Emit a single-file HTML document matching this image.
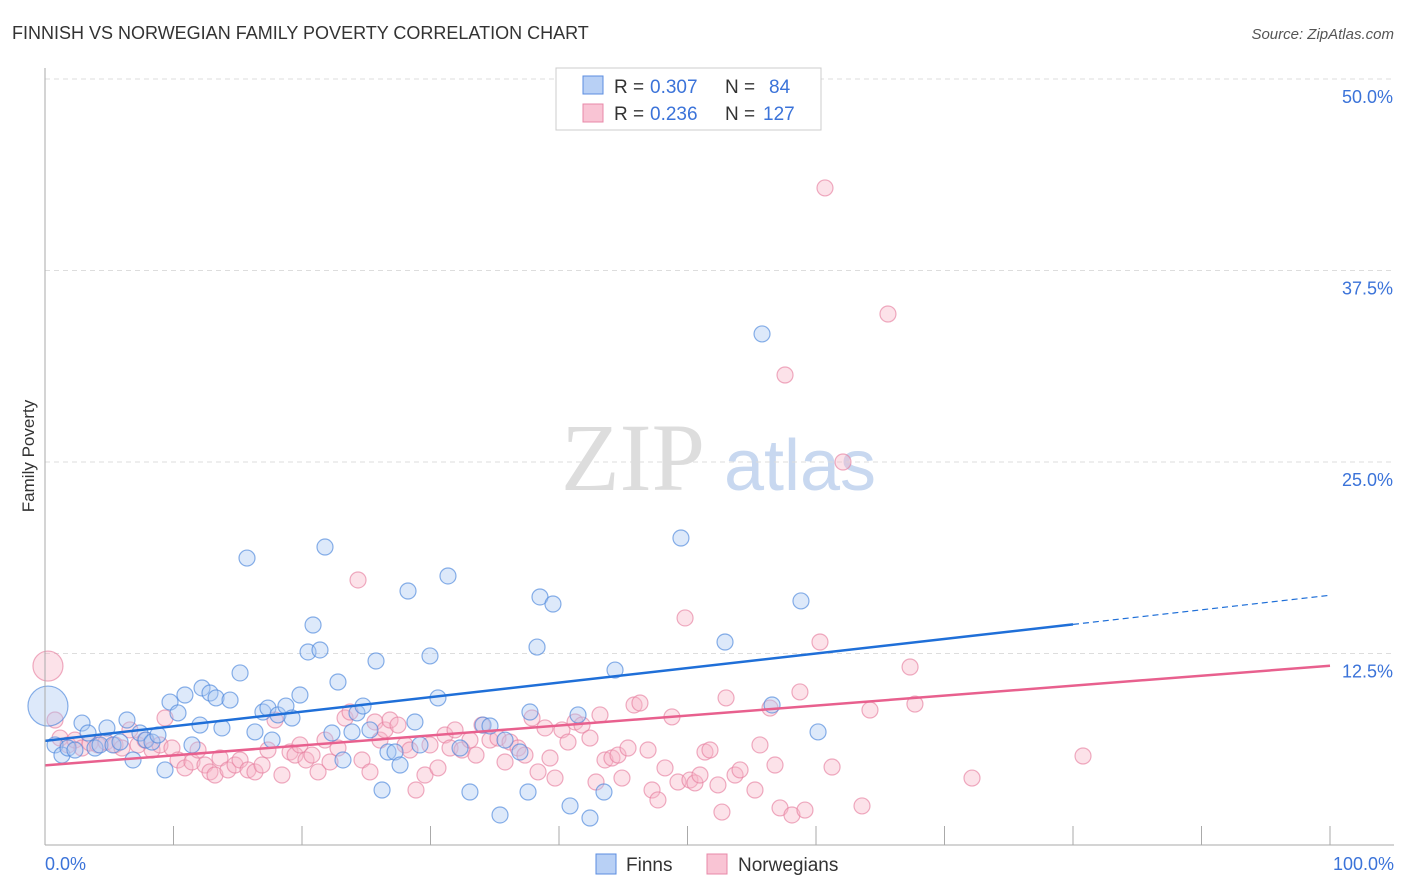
<!DOCTYPE html>
<html><head><meta charset="utf-8"><style>
body{margin:0;background:#fff;font-family:"Liberation Sans",sans-serif;}
svg{display:block}
</style></head><body>
<svg id="c" width="1406" height="892" xmlns="http://www.w3.org/2000/svg">
<text x="12" y="39" font-size="18" fill="#333">FINNISH VS NORWEGIAN FAMILY POVERTY CORRELATION CHART</text>
<text x="1394" y="39" font-size="15" fill="#555" font-style="italic" text-anchor="end">Source: ZipAtlas.com</text>
<text x="633" y="490" font-size="96" fill="#ddd" font-family="Liberation Serif,serif" text-anchor="middle">ZIP</text>
<text x="800" y="490" font-size="72" fill="#c8d8f0" text-anchor="middle">atlas</text>
<text transform="translate(34,456) rotate(-90)" font-size="17" fill="#333" text-anchor="middle">Family Poverty</text>
<g id="grid"></g><g id="pts"></g><g id="lines"></g>
<line x1="45" y1="68" x2="45" y2="845" stroke="#aaa"/>
<line x1="45" y1="845" x2="1394" y2="845" stroke="#aaa"/>
<text x="45" y="870" font-size="18" fill="#3b73d9">0.0%</text>
<text x="1394" y="870" font-size="18" fill="#3b73d9" text-anchor="end">100.0%</text>
<g font-size="19">
<rect x="556" y="68" width="265" height="62" fill="#fff" stroke="#ccc"/>
<rect x="583" y="76" width="20" height="18" fill="#b8d0f5" stroke="#5b8de0"/>
<rect x="583" y="104" width="20" height="18" fill="#f9c4d4" stroke="#e888a8"/>
<text x="614" y="93" fill="#333">R =</text><text x="650" y="93" fill="#3b73d9">0.307</text>
<text x="725" y="93" fill="#333">N =</text><text x="769" y="93" fill="#3b73d9">84</text>
<text x="614" y="120" fill="#333">R =</text><text x="650" y="120" fill="#3b73d9">0.236</text>
<text x="725" y="120" fill="#333">N =</text><text x="763" y="120" fill="#3b73d9">127</text>
</g>
<g>
<rect x="596" y="854" width="20" height="20" fill="#b8d0f5" stroke="#5b8de0"/>
<text x="626" y="871" font-size="19" fill="#333">Finns</text>
<rect x="707" y="854" width="20" height="20" fill="#f9c4d4" stroke="#e888a8"/>
<text x="738" y="871" font-size="19" fill="#333">Norwegians</text>
</g>
</svg>
<script>
const yTicks=[12.5,25,37.5,50];
const yTickLabels=["12.5%","25.0%","37.5%","50.0%"];
const xTicks=[0,10,20,30,40,50,60,70,80,90,100];
const finnsPx=[[48,706],[55,745],[62,755],[68,748],[75,750],[82,723],[88,733],[95,748],[100,745],[107,728],[113,745],[120,742],[127,720],[133,760],[140,733],[146,740],[152,742],[158,735],[165,770],[170,702],[178,713],[185,695],[192,745],[200,725],[202,688],[210,693],[216,698],[222,728],[230,700],[240,673],[247,558],[255,732],[263,712],[268,708],[272,740],[278,715],[286,706],[292,718],[300,695],[308,652],[313,625],[320,650],[325,547],[332,733],[338,682],[343,760],[352,732],[357,713],[363,706],[370,730],[376,661],[382,790],[388,752],[395,752],[400,765],[408,591],[415,722],[420,745],[430,656],[438,698],[448,576],[460,748],[470,792],[483,725],[490,726],[500,815],[505,740],[520,752],[528,792],[530,712],[537,647],[540,597],[553,604],[570,806],[578,715],[590,818],[604,792],[615,670],[681,538],[725,642],[762,334],[772,705],[801,601],[818,732]];
const norPx=[[48,666],[55,720],[60,738],[68,745],[75,740],[82,748],[90,743],[98,745],[106,742],[115,745],[122,748],[130,730],[138,745],[145,740],[152,750],[160,745],[165,718],[172,748],[178,760],[185,768],[192,762],[198,750],[205,765],[210,772],[215,775],[220,758],[228,770],[235,765],[240,760],[248,770],[255,772],[262,765],[268,750],[275,720],[282,775],[290,752],[295,755],[300,745],[306,760],[312,755],[318,772],[325,740],[330,762],[338,748],[345,718],[350,712],[358,580],[362,760],[370,772],[375,722],[380,740],[385,730],[390,720],[398,725],[405,745],[410,750],[416,790],[425,775],[430,745],[438,768],[445,735],[450,748],[455,730],[462,750],[470,740],[476,755],[482,725],[490,740],[498,738],[505,762],[510,742],[518,748],[525,755],[532,718],[538,772],[545,728],[550,758],[555,778],[562,730],[568,742],[575,722],[582,725],[590,738],[596,782],[600,715],[605,760],[612,758],[618,755],[622,778],[628,748],[634,705],[640,703],[648,750],[652,790],[658,800],[665,768],[672,717],[678,782],[685,618],[690,780],[695,783],[700,775],[705,752],[710,750],[718,785],[722,812],[726,698],[735,775],[740,770],[755,790],[760,745],[770,708],[775,765],[780,808],[785,375],[792,815],[800,692],[805,810],[820,642],[825,188],[832,767],[843,462],[862,806],[870,710],[888,314],[910,667],[915,704],[972,778],[1083,756]];
const finnsX=finnsPx.map(p=>+((p[0]-45)/12.85).toFixed(2));
const finnsY=finnsPx.map(p=>+((845-p[1])/15.32).toFixed(2));
const norX=norPx.map(p=>+((p[0]-45)/12.85).toFixed(2));
const norY=norPx.map(p=>+((845-p[1])/15.32).toFixed(2));
const finnsTrend=[6.8,14.4];
const norTrend=[5.2,11.7];
const X=v=>45+v*12.85, Y=v=>845-v*15.32;
const NS="http://www.w3.org/2000/svg";
function mk(t,a,par){const e=document.createElementNS(NS,t);for(const k in a)e.setAttribute(k,a[k]);document.getElementById(par).appendChild(e);return e;}
yTicks.forEach((t,i)=>{
 const l=mk('line',{x1:45,x2:1394,y1:Y(t),y2:Y(t),stroke:'#ddd','stroke-dasharray':'5,4'},'grid');
 
 
 const tx=mk('text',{x:1393,y:Y(t)+24,'font-size':18,fill:'#3b73d9','text-anchor':'end'},'grid');
 tx.textContent=yTickLabels[i];
 
 
});
mk('line',{x1:45,x2:1394,y1:79,y2:79,stroke:'#ddd','stroke-dasharray':'5,4'},'grid');
xTicks.forEach(t=>{
 const l=mk('line',{x1:X(t),x2:X(t),y1:826,y2:845,stroke:'#aaa'},'grid');
 
 
});
function pts(xs,ys,fill,stroke,name){
 xs.forEach((x,i)=>{
  const r=i===0?(name==='finn-point'?20:15):8;
  const c=mk('circle',{cx:X(x),cy:Y(ys[i]),r:r,fill:fill,'fill-opacity':0.4,stroke:stroke,'stroke-opacity':0.65,'stroke-width':1.2},'pts');
  
  
 });
}
pts(norX,norY,'#f7b6c9','#e77fa0','norwegian-point');
pts(finnsX,finnsY,'#a9c7f2','#4a86dc','finn-point');
const slopeF=(finnsTrend[1]-finnsTrend[0])/80;
let l1=mk('line',{x1:X(0),y1:Y(finnsTrend[0]),x2:X(80),y2:Y(finnsTrend[1]),stroke:'#1f6fd8','stroke-width':2.5},'lines');


let l2=mk('line',{x1:X(80),y1:Y(finnsTrend[1]),x2:X(100),y2:Y(finnsTrend[0]+slopeF*100),stroke:'#1f6fd8','stroke-width':1.2,'stroke-dasharray':'6,4'},'lines');


let l3=mk('line',{x1:X(0),y1:Y(norTrend[0]),x2:X(100),y2:Y(norTrend[1]),stroke:'#e8608e','stroke-width':2.5},'lines');


</script>
</body></html>
